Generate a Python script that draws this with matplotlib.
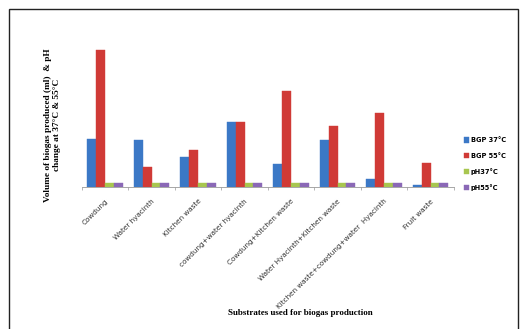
import matplotlib
matplotlib.use('Agg')
from matplotlib import pyplot as plt
from matplotlib.patches import Rectangle
import numpy as np

substrates = ['Cowdung', 'Water hyacinth', 'Kitchen waste',
              'cowdung+water hyacinth', 'Cowdung+Kitchen waste',
              'Water Hyacinth+Kitchen waste',
              'Kitchen waste+cowdung+water  Hyacinth', 'Fruit waste']
bgp_37 = [85, 82, 52, 114, 40, 82, 14, 4]
bgp_55 = [242, 35, 66, 114, 170, 107, 130, 42]
ph_37 = [7.2, 7.0, 6.8, 7.1, 7.0, 7.2, 6.9, 6.8]
ph_55 = [7.5, 7.3, 7.1, 7.4, 7.3, 6.0, 7.2, 7.4]

series = [(bgp_37, 'BGP 37°C', '#3b78c6'),
          (bgp_55, 'BGP 55°C', '#d03a36'),
          (ph_37, 'pH37°C', '#a8c64f'),
          (ph_55, 'pH55°C', '#8a68b6')]

fig = plt.figure(figsize=(5.24, 3.29), dpi=100)
ax = fig.add_axes([0.156, 0.432, 0.71, 0.43])

x = np.arange(len(substrates))
w = 0.19
for i, (vals, lab, c) in enumerate(series):
    ax.bar(x + (i - 1.5) * w, vals, w, color=c, label=lab,
           edgecolor=c, linewidth=0.3)

ax.set_xlim(-0.5, len(substrates) - 0.5)
ax.set_ylim(0, 250)
for s in ['top', 'right', 'left']:
    ax.spines[s].set_visible(False)
ax.spines['bottom'].set_color('#999999')
ax.spines['bottom'].set_linewidth(0.6)
ax.set_yticks([])
ax.set_xticks(np.arange(len(substrates) + 1) - 0.5, minor=True)
ax.set_xticks(x)
ax.set_xticklabels(substrates, rotation=45, ha='right', rotation_mode='anchor',
                   fontsize=5.2, color='#333333')
ax.tick_params(axis='x', which='major', length=0, pad=8)
ax.tick_params(axis='x', which='minor', length=2, color='#999999', width=0.5)

fig.text(0.1, 0.62, 'Volume of biogas produced (ml)  & pH\nchange at 37°C & 55°C',
         fontfamily='Liberation Serif', fontweight='bold', fontsize=6.7,
         rotation=90, ha='center', va='center', multialignment='center')
fig.text(0.573, 0.05, 'Substrates used for biogas production',
         fontfamily='Liberation Serif', fontweight='bold', fontsize=6.5,
         ha='center', va='center')

leg = ax.legend(loc='center left', bbox_to_anchor=(1.01, 0.16), frameon=False,
                fontsize=4.8, handlelength=0.8, handleheight=0.8,
                labelspacing=1.4, handletextpad=0.3)
for t in leg.get_texts():
    t.set_fontweight('bold')

fig.patches.append(Rectangle((9 / 524, -0.05), 509 / 524, 1 - 9 / 329 + 0.05,
                             transform=fig.transFigure, fill=False,
                             edgecolor='#222222', linewidth=1.0))

fig.savefig('out.png', dpi=100)
